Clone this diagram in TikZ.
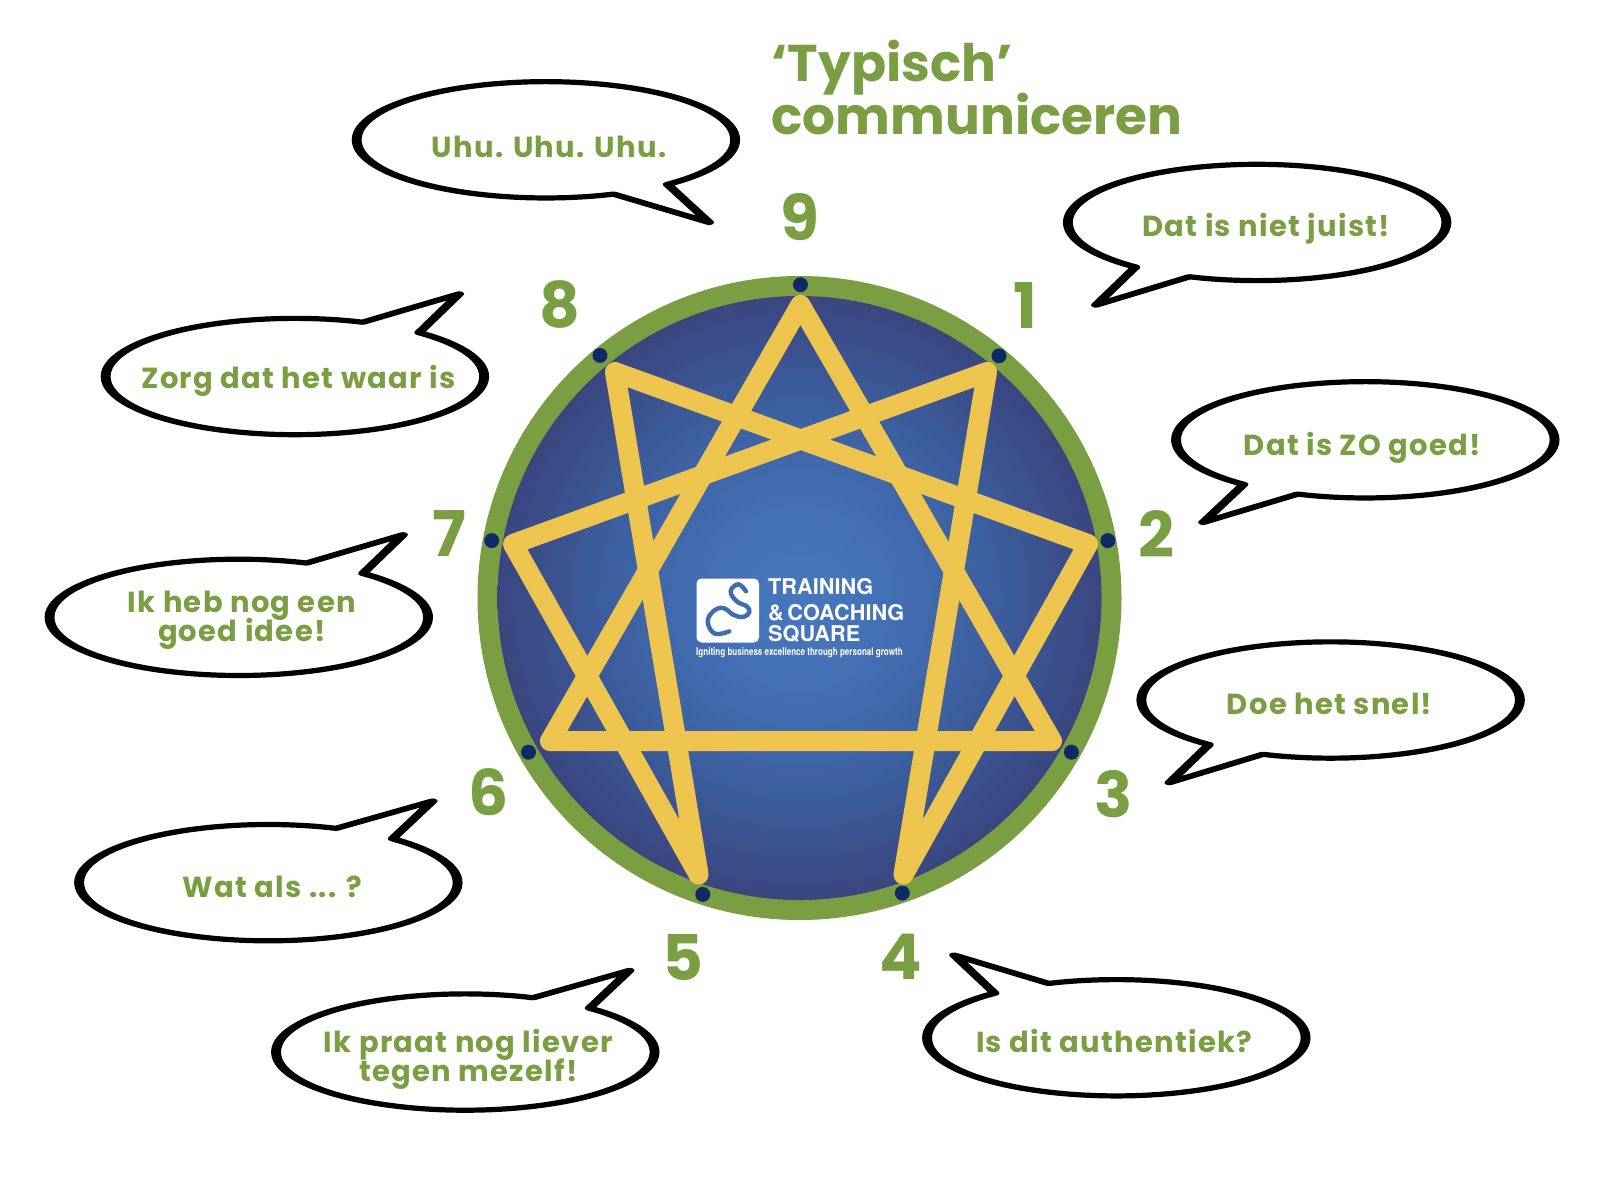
\documentclass[tikz,border=0pt]{standalone}
\usepackage{fontspec}
\setmainfont{Poppins}
\newfontfamily\sayfont[LetterSpace=4.5]{Poppins}
\newfontfamily\logofont{TeX Gyre Heros}
\newfontfamily\tagfont[FakeStretch=0.76]{TeX Gyre Heros}
\usetikzlibrary{calc}
\definecolor{leaf}{HTML}{7A9E42}
\definecolor{gold}{HTML}{EDC44E}
\definecolor{navy}{HTML}{0F2A66}
\definecolor{logoblue}{HTML}{3F6DB0}
\definecolor{sa}{HTML}{4678BE}
\definecolor{sb}{HTML}{4371B6}
\definecolor{sc}{HTML}{3D60A0}
\definecolor{sd}{HTML}{3A4A85}
\definecolor{se}{HTML}{403462}
\pgfdeclareradialshading{ennea}{\pgfpoint{0bp}{0bp}}{%
  color(0bp)=(sa);
  color(7bp)=(sb);
  color(15.5bp)=(sc);
  color(23.5bp)=(sd);
  color(31.5bp)=(se);
  color(50bp)=(se)}
\lineskiplimit=-100pt
\tikzset{
  numlabel/.style={font=\bfseries\fontsize{63}{63}\selectfont,text=leaf,inner sep=0pt},
  saytext/.style={font=\sayfont\bfseries\fontsize{29}{29.6}\selectfont,text=leaf,inner sep=0pt,align=center,anchor=base},
  titletext/.style={font=\bfseries\fontsize{51.7}{54}\selectfont,text=leaf,inner sep=0pt,anchor=base west},
  balloon/.style={draw=black,line width=5.2pt,line join=round,fill=white},
  dotmark/.style={circle,fill=navy,minimum size=15pt,inner sep=0pt,draw=none},
  starline/.style={draw=gold,line width=20pt,line cap=round,line join=round},
  logotext/.style={font=\logofont\bfseries\fontsize{21.7}{22}\selectfont,text=white,inner sep=0pt,anchor=base west},
}
% cx, cy, start angle, end angle, tip x, tip y (stroke widened sideways by a canvas stretch)
\newcommand{\balloonat}[6]{%
  \begin{scope}[transform canvas={shift={(#1,#2)},xscale=1.9}]
  \draw[balloon] plot[domain=#3:#4,samples=90,smooth]
    ({185.5/1.9*cos(\x)},{57*sin(\x)}) -- ({(#5)/1.9},#6) -- cycle;
  \end{scope}}
\begin{document}
\begin{tikzpicture}[x=1pt,y=-1pt]
\useasboundingbox (0,0) rectangle (1600,1200);
\fill[white] (0,0) rectangle (1600,1200);
% disc
\coordinate (c) at (799.5,598);
\fill[leaf] (c) circle[radius=322];
\shade[shading=ennea] (c) circle[radius=302];
% dots
\node[dotmark] (d9) at (800.4,284.7) {};
\node[dotmark] (d1) at (999,355.8) {};
\node[dotmark] (d2) at (1107.9,540.6) {};
\node[dotmark] (d3) at (1071.4,752.2) {};
\node[dotmark] (d4) at (902.3,893.1) {};
\node[dotmark] (d5) at (702.8,894.4) {};
\node[dotmark] (d6) at (528.5,752.2) {};
\node[dotmark] (d7) at (491.7,540.6) {};
\node[dotmark] (d8) at (600,355.4) {};
% star
\coordinate (v9) at (800.4,305);
\coordinate (v1) at (987,372);
\coordinate (v2) at (1088,544);
\coordinate (v3) at (1052,741);
\coordinate (v4) at (903.5,874.5);
\coordinate (v5) at (698.6,874.5);
\coordinate (v6) at (550,741);
\coordinate (v7) at (513,544);
\coordinate (v8) at (615,372);
\draw[starline] (v9) -- (v3) -- (v6) -- cycle;
\draw[starline] (v1) -- (v4) -- (v2) -- (v8) -- (v5) -- (v7) -- cycle;
% logo
\fill[white,rounded corners=5pt] (696.5,578.5) rectangle (759,642.5);
\draw[logoblue,line width=4.4pt,line cap=round] plot[smooth,tension=0.7] coordinates
  {(746,591.3) (738.3,584.3) (730.7,591.3) (736.7,601.3) (746.7,606.3) (749.3,612) (743.3,617)
   (733.3,614.7) (723.3,608) (713.3,611.3) (707.7,622) (715,633.7) (729.3,631.3)};
\node[logotext] (l1) at (768,594.3) {TRAINING};
\node[logotext] (l2) at (768,620) {\&\,COACHING};
\node[logotext] (l3) at (768,641.7) {SQUARE};
\node[font=\tagfont\bfseries\fontsize{10.6}{10.6}\selectfont,text=white,inner sep=0pt,anchor=base west] (l4) at (696,655.5) {Igniting business excellence through personal growth};
% everything below in the coordinates of the 1568-wide view
\begin{scope}[x=1.0204pt,y=-1.0204pt]
\balloonat{535}{137}{69}{410}{160}{81}
\balloonat{1232}{218}{130}{471}{-158}{81}
\balloonat{1338}{431}{130}{471}{-159}{81}
\balloonat{1304}{686}{130}{471}{-158}{81}
\balloonat{1094}{1017}{249}{590}{-159}{-81}
\balloonat{456}{1031}{311}{651}{161}{-80}
\balloonat{263}{865}{311}{651}{161}{-80}
\balloonat{234}{605}{311}{651}{161}{-81}
\balloonat{289}{369}{311}{651}{161}{-81}
\node[saytext] (s9) at (538,154) {Uhu. Uhu. Uhu.};
\node[saytext] (s1) at (1241,232) {Dat is niet juist!};
\node[saytext] (s2) at (1335,446) {Dat is ZO goed!};
\node[saytext] (s3) at (1303,700) {Doe het snel!};
\node[saytext] (s4) at (1092,1031) {Is dit authentiek?};
\node[saytext] (s5) at (459,1060) {Ik praat nog liever\\tegen mezelf!};
\node[saytext] (s6) at (267,880) {Wat als ... ?};
\node[saytext] (s7) at (237,629) {Ik heb nog een\\goed idee!};
\node[saytext] (s8) at (292.5,381) {Zorg dat het waar is};
\node[numlabel] (n9) at (784,213) {9};
\node[numlabel] (n1) at (1005,299) {1};
\node[numlabel] (n2) at (1133,523) {2};
\node[numlabel] (n3) at (1091,778) {3};
\node[numlabel] (n4) at (883,938) {4};
\node[numlabel] (n5) at (669,938) {5};
\node[numlabel] (n6) at (479,776) {6};
\node[numlabel] (n7) at (440,523) {7};
\node[numlabel] (n8) at (549,298) {8};
\node[titletext] (t1) at (756,80) {‘Typisch’};
\node[titletext] (t2) at (756,132) {communiceren};
\end{scope}
\end{tikzpicture}
\end{document}
